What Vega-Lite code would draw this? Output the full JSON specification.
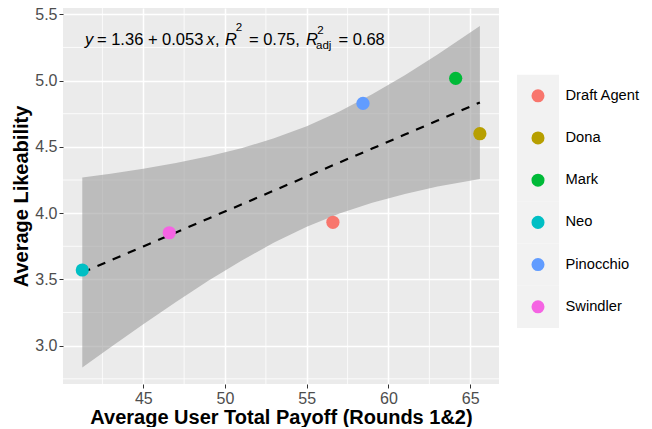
{
  "$schema": "https://vega.github.io/schema/vega-lite/v6.json",
  "background": "white",
  "padding": {"left": 11, "top": 6, "right": 0, "bottom": 0},
  "spacing": 17,
  "datasets": {
    "pts": [
      {"name": "Draft Agent", "payoff": 56.60, "like": 3.931},
      {"name": "Dona", "payoff": 65.59, "like": 4.599},
      {"name": "Mark", "payoff": 64.11, "like": 5.017},
      {"name": "Neo", "payoff": 41.27, "like": 3.571},
      {"name": "Pinocchio", "payoff": 58.44, "like": 4.828},
      {"name": "Swindler", "payoff": 46.59, "like": 3.852}
    ],
    "band": [
      {"x": 41.27, "fit": 3.552, "lo": 2.836, "hi": 4.268},
      {"x": 43, "fit": 3.643, "lo": 2.989, "hi": 4.298},
      {"x": 45, "fit": 3.749, "lo": 3.162, "hi": 4.335},
      {"x": 47, "fit": 3.854, "lo": 3.330, "hi": 4.378},
      {"x": 49, "fit": 3.960, "lo": 3.491, "hi": 4.429},
      {"x": 51, "fit": 4.065, "lo": 3.641, "hi": 4.489},
      {"x": 53, "fit": 4.171, "lo": 3.778, "hi": 4.564},
      {"x": 55, "fit": 4.276, "lo": 3.897, "hi": 4.656},
      {"x": 57, "fit": 4.382, "lo": 3.997, "hi": 4.767},
      {"x": 59, "fit": 4.487, "lo": 4.079, "hi": 4.896},
      {"x": 61, "fit": 4.593, "lo": 4.145, "hi": 5.040},
      {"x": 63, "fit": 4.698, "lo": 4.200, "hi": 5.197},
      {"x": 65.59, "fit": 4.835, "lo": 4.258, "hi": 5.412}
    ],
    "txtNormal": [
      {"t": "= 1.36 + 0.053", "x": 42.168, "y": 5.268},
      {"t": ",", "x": 49.385, "y": 5.268},
      {"t": "= 0.75,", "x": 51.465, "y": 5.268},
      {"t": "= 0.68", "x": 56.939, "y": 5.268}
    ],
    "txtItalic": [
      {"t": "y", "x": 41.434, "y": 5.268},
      {"t": "x", "x": 48.865, "y": 5.268},
      {"t": "R", "x": 49.997, "y": 5.268},
      {"t": "R", "x": 54.951, "y": 5.268}
    ],
    "txtSmall": [
      {"t": "2", "x": 50.66, "y": 5.372},
      {"t": "2", "x": 55.64, "y": 5.350},
      {"t": "adj", "x": 55.563, "y": 5.240}
    ]
  },
  "config": {
    "font": "Liberation Sans",
    "view": {"stroke": null},
    "axis": {
      "labelFont": "Liberation Sans",
      "titleFont": "Liberation Sans",
      "labelFontSize": 16,
      "labelColor": "#4D4D4D",
      "titleFontSize": 20,
      "titleFontWeight": "bold",
      "titleColor": "black",
      "tickColor": "#333333",
      "tickSize": 4,
      "tickWidth": 1,
      "domain": false,
      "labelPadding": 2
    },
    "axisQuantitative": {"tickCount": 5, "grid": true, "gridColor": "white", "gridWidth": 1.5},
    "axisX": {"titlePadding": 1},
    "axisY": {"titlePadding": 3}
  },
  "hconcat": [
    {
      "width": 436,
      "height": 376,
      "view": {"fill": "#EBEBEB", "stroke": null},
      "layer": [
        {
          "data": {"values": [{"v": 42.5}, {"v": 47.5}, {"v": 52.5}, {"v": 57.5}, {"v": 62.5}]},
          "mark": {"type": "rule", "color": "white", "strokeWidth": 0.8},
          "encoding": {
            "x": {"field": "v", "type": "quantitative", "scale": {"domain": [40.09, 66.76], "nice": false, "zero": false}, "title": "Average User Total Payoff (Rounds 1&2)"}
          }
        },
        {
          "data": {"values": [{"w": 2.75}, {"w": 3.25}, {"w": 3.75}, {"w": 4.25}, {"w": 4.75}, {"w": 5.25}]},
          "mark": {"type": "rule", "color": "white", "strokeWidth": 0.8},
          "encoding": {
            "y": {"field": "w", "type": "quantitative", "scale": {"domain": [2.711, 5.5475], "nice": false, "zero": false}, "title": "Average Likeability"}
          }
        },
        {
          "data": {"name": "band"},
          "mark": {"type": "area", "fill": "#999999", "opacity": 0.58},
          "encoding": {
            "x": {"field": "x", "type": "quantitative", "scale": {"domain": [40.09, 66.76], "nice": false, "zero": false}, "title": "Average User Total Payoff (Rounds 1&2)"},
            "y": {"field": "lo", "type": "quantitative", "scale": {"domain": [2.711, 5.5475], "nice": false, "zero": false}, "title": "Average Likeability"},
            "y2": {"field": "hi"}
          }
        },
        {
          "data": {"name": "band"},
          "mark": {"type": "line", "color": "black", "strokeWidth": 2.2, "strokeDash": [8.5, 8]},
          "encoding": {
            "x": {"field": "x", "type": "quantitative", "scale": {"domain": [40.09, 66.76], "nice": false, "zero": false}, "title": "Average User Total Payoff (Rounds 1&2)"},
            "y": {"field": "fit", "type": "quantitative", "scale": {"domain": [2.711, 5.5475], "nice": false, "zero": false}, "title": "Average Likeability"}
          }
        },
        {
          "data": {"name": "pts"},
          "mark": {"type": "point", "filled": true, "size": 175, "opacity": 1},
          "encoding": {
            "x": {"field": "payoff", "type": "quantitative", "scale": {"domain": [40.09, 66.76], "nice": false, "zero": false}, "title": "Average User Total Payoff (Rounds 1&2)"},
            "y": {"field": "like", "type": "quantitative", "scale": {"domain": [2.711, 5.5475], "nice": false, "zero": false}, "title": "Average Likeability"},
            "color": {"field": "name", "type": "nominal", "scale": {"domain": ["Draft Agent", "Dona", "Mark", "Neo", "Pinocchio", "Swindler"], "range": ["#F8766D", "#B79F00", "#00BA38", "#00BFC4", "#619CFF", "#F564E3"]}, "legend": null}
          }
        },
        {
          "data": {"name": "txtNormal"},
          "mark": {"type": "text", "align": "left", "baseline": "alphabetic", "fontSize": 16.5, "color": "black", "font": "Liberation Sans"},
          "encoding": {
            "x": {"field": "x", "type": "quantitative", "scale": {"domain": [40.09, 66.76], "nice": false, "zero": false}, "title": "Average User Total Payoff (Rounds 1&2)"},
            "y": {"field": "y", "type": "quantitative", "scale": {"domain": [2.711, 5.5475], "nice": false, "zero": false}, "title": "Average Likeability"},
            "text": {"field": "t"}
          }
        },
        {
          "data": {"name": "txtItalic"},
          "mark": {"type": "text", "align": "left", "baseline": "alphabetic", "fontSize": 16.5, "fontStyle": "italic", "color": "black", "font": "Liberation Sans"},
          "encoding": {
            "x": {"field": "x", "type": "quantitative", "scale": {"domain": [40.09, 66.76], "nice": false, "zero": false}, "title": "Average User Total Payoff (Rounds 1&2)"},
            "y": {"field": "y", "type": "quantitative", "scale": {"domain": [2.711, 5.5475], "nice": false, "zero": false}, "title": "Average Likeability"},
            "text": {"field": "t"}
          }
        },
        {
          "data": {"name": "txtSmall"},
          "mark": {"type": "text", "align": "left", "baseline": "alphabetic", "fontSize": 11.6, "color": "black", "font": "Liberation Sans"},
          "encoding": {
            "x": {"field": "x", "type": "quantitative", "scale": {"domain": [40.09, 66.76], "nice": false, "zero": false}, "title": "Average User Total Payoff (Rounds 1&2)"},
            "y": {"field": "y", "type": "quantitative", "scale": {"domain": [2.711, 5.5475], "nice": false, "zero": false}, "title": "Average Likeability"},
            "text": {"field": "t"}
          }
        }
      ]
    },
    {
      "width": 42,
      "height": 337.6,
      "data": {"name": "pts"},
      "layer": [
        {
          "mark": {"type": "rect", "color": "#F2F2F2"},
          "encoding": {
            "y": {"field": "name", "type": "nominal", "sort": ["Draft Agent", "Dona", "Mark", "Neo", "Pinocchio", "Swindler"], "scale": {"type": "band", "paddingInner": 0, "paddingOuter": 1, "align": 0.79}, "title": null,
                  "axis": {"orient": "right", "domain": false, "ticks": false, "grid": false, "labelPadding": 6, "labelFontSize": 14.7, "labelColor": "black"}}
          }
        },
        {
          "mark": {"type": "point", "filled": true, "size": 170, "opacity": 1},
          "encoding": {
            "y": {"field": "name", "type": "nominal", "sort": ["Draft Agent", "Dona", "Mark", "Neo", "Pinocchio", "Swindler"], "scale": {"type": "band", "paddingInner": 0, "paddingOuter": 1, "align": 0.79}, "title": null,
                  "axis": {"orient": "right", "domain": false, "ticks": false, "grid": false, "labelPadding": 6, "labelFontSize": 14.7, "labelColor": "black"}},
            "color": {"field": "name", "type": "nominal", "scale": {"domain": ["Draft Agent", "Dona", "Mark", "Neo", "Pinocchio", "Swindler"], "range": ["#F8766D", "#B79F00", "#00BA38", "#00BFC4", "#619CFF", "#F564E3"]}, "legend": null}
          }
        }
      ]
    }
  ]
}
